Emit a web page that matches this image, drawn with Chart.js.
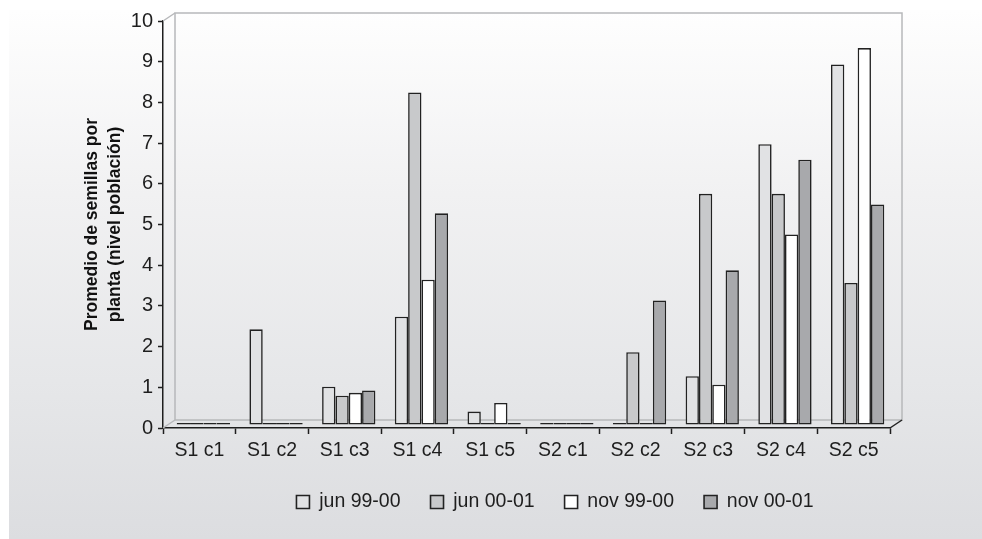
<!DOCTYPE html>
<html lang="es">
<head>
<meta charset="utf-8">
<title>Promedio de semillas por planta</title>
<script src="https://cdn.jsdelivr.net/npm/chart.js@4.4.1/dist/chart.umd.min.js"></script>
<style>
  html, body { margin: 0; padding: 0; background: #ffffff; }
  #wrap { position: relative; width: 982px; height: 539px; overflow: hidden; }
  #panel {
    position: absolute; left: 9px; top: 10px; right: 0; bottom: 0;
    background: linear-gradient(to bottom, #fefefe 0%, #f1f1f2 35%, #e6e7e9 70%, #dcdde0 100%);
  }
  #chart { position: absolute; left: 0; top: 0; }
</style>
</head>
<body>
<div id="wrap">
  <div id="panel"></div>
  <canvas id="chart" width="982" height="539"></canvas>
</div>
<script>
// Sitios y censos
const categories = ['S1 c1', 'S1 c2', 'S1 c3', 'S1 c4', 'S1 c5', 'S2 c1', 'S2 c2', 'S2 c3', 'S2 c4', 'S2 c5'];

// Promedio de semillas por planta en cada muestreo
const jun9900 = [0, 2.35, 0.94, 2.66, 0.33, 0, 0, 1.2, 6.9, 8.86];
const jun0001 = [0, 0, 0.72, 8.17, 0, 0, 1.79, 5.68, 5.68, 3.49];
const nov9900 = [0, 0, 0.79, 3.57, 0.54, 0, 0, 0.99, 4.68, 9.26];
const nov0001 = [0, 0, 0.85, 5.2, 0, 0, 3.06, 3.8, 6.52, 5.42];

const seriesNames = ['jun 99-00', 'jun 00-01', 'nov 99-00', 'nov 00-01'];
const seriesColors = ['#e1e2e4', '#c8c9cb', '#ffffff', '#a8a9ac'];

const yTicks = [0, 1, 2, 3, 4, 5, 6, 7, 8, 9, 10];
const yTitle = ['Promedio de semillas por', 'planta (nivel población)'];

const FONT = "'Liberation Sans', Arial, sans-serif";
const DEPTH = { x: 12, y: -8 };      // profundidad de la pared del fondo
const BAR_SHIFT = { x: 4, y: -3 };   // barras en el plano medio
const LEGEND_CENTER_X = 555;

// Paredes y suelo en perspectiva; las barras se desplazan al plano medio
const frame3d = {
  id: 'frame3d',
  beforeDatasetsDraw(chart) {
    const { ctx, chartArea: a } = chart;
    const dx = DEPTH.x, dy = DEPTH.y;
    ctx.save();
    ctx.strokeStyle = '#b7b8ba';
    ctx.lineWidth = 1.5;
    ctx.strokeRect(a.left + dx, a.top + dy, a.right - a.left, a.bottom - a.top);
    ctx.beginPath();
    ctx.moveTo(a.left, a.top); ctx.lineTo(a.left + dx, a.top + dy);
    ctx.moveTo(a.left, a.bottom); ctx.lineTo(a.left + dx, a.bottom + dy);
    ctx.stroke();
    ctx.strokeStyle = '#222222';
    ctx.beginPath();
    ctx.moveTo(a.right, a.bottom); ctx.lineTo(a.right + dx, a.bottom + dy);
    ctx.stroke();
    ctx.restore();
    ctx.save();
    ctx.translate(BAR_SHIFT.x, BAR_SHIFT.y);
  },
  afterDatasetsDraw(chart) {
    chart.ctx.restore();
  },
  afterLayout(chart) {
    const lg = chart.legend;
    if (!lg) return;
    const shift = LEGEND_CENTER_X - (lg.left + lg.right) / 2;
    lg.left += shift;
    lg.right += shift;
  }
};

const values = [jun9900, jun0001, nov9900, nov0001];

new Chart(document.getElementById('chart'), {
  type: 'bar',
  data: {
    labels: categories,
    datasets: seriesNames.map((name, i) => ({
      label: name,
      data: values[i],
      backgroundColor: seriesColors[i],
      borderColor: '#222222',
      borderWidth: 1.6,
      borderSkipped: false,
      minBarLength: 2,
      categoryPercentage: 0.733,
      barPercentage: 1.0
    }))
  },
  options: {
    responsive: false,
    animation: false,
    devicePixelRatio: 1,
    layout: { padding: { left: 0, right: 92, top: 21, bottom: 17.25 } },
    plugins: {
      tooltip: { enabled: false },
      legend: {
        position: 'bottom',
        fullSize: false,
        labels: {
          color: '#1e1e1e',
          font: { family: FONT, size: 19.5 },
          boxWidth: 13,
          boxHeight: 13,
          padding: 30
        }
      }
    },
    scales: {
      x: {
        grid: {
          offset: true,
          drawOnChartArea: false,
          drawTicks: true,
          tickLength: 6,
          tickColor: '#1e1e1e',
          tickWidth: 1.5
        },
        border: { display: true, color: '#1e1e1e', width: 1.5 },
        ticks: {
          color: '#1e1e1e',
          font: { family: FONT, size: 19.5 },
          padding: 5,
          maxRotation: 0
        },
        afterFit(scale) { scale.height = 34.25; }
      },
      y: {
        min: 0,
        max: 10,
        afterBuildTicks(scale) { scale.ticks = yTicks.map(v => ({ value: v })); },
        grid: {
          drawOnChartArea: false,
          drawTicks: true,
          tickLength: 5,
          tickColor: '#1e1e1e',
          tickWidth: 1.5
        },
        border: { display: true, color: '#1e1e1e', width: 1.5 },
        ticks: {
          color: '#1e1e1e',
          font: { family: FONT, size: 20 },
          padding: 5
        },
        title: {
          display: true,
          text: yTitle,
          color: '#111111',
          font: { family: FONT, size: 17.5, weight: 'bold', lineHeight: '23px' },
          padding: { top: 81, bottom: 0 }
        },
        afterFit(scale) { scale.width = 163; }
      }
    }
  },
  plugins: [frame3d]
});
</script>
</body>
</html>
